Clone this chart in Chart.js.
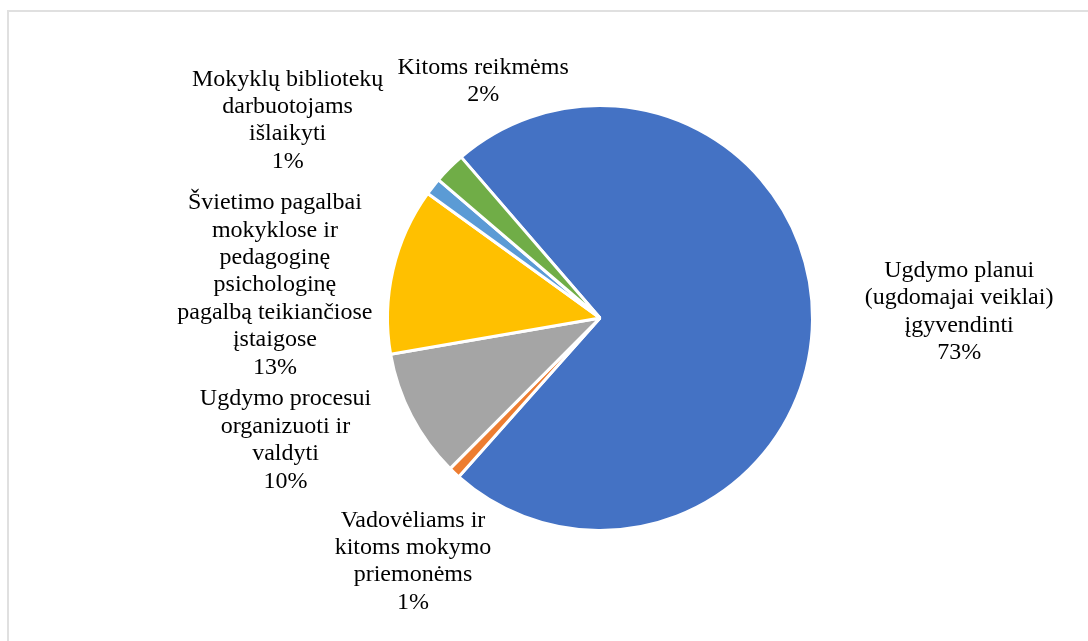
<!DOCTYPE html>
<html>
<head>
<meta charset="utf-8">
<script src="https://cdn.jsdelivr.net/npm/chart.js@4/dist/chart.umd.min.js"></script>
<style>
    html, body { margin: 0; padding: 0; background: #fff; overflow: hidden; }
    #wrap { position: relative; width: 1088px; height: 641px; }
    #frame { position: absolute; left: 7px; top: 10px; width: 1100px; height: 660px; border: 2px solid #e0e0e0; box-sizing: border-box; }
    #chart { position: absolute; left: 0; top: 0; }
</style>
</head>
<body>
<div id="wrap">
    <div id="frame"></div>
    <canvas id="chart" width="1088" height="641"></canvas>
</div>
<script>
// Kategorijos (eilutės suskaidytos kaip paveiksle)
const categories = [
    ['Ugdymo planui', '(ugdomajai veiklai)', 'įgyvendinti'],
    ['Vadovėliams ir', 'kitoms mokymo', 'priemonėms'],
    ['Ugdymo procesui', 'organizuoti ir', 'valdyti'],
    ['Švietimo pagalbai', 'mokyklose ir', 'pedagoginę', 'psichologinę', 'pagalbą teikiančiose', 'įstaigose'],
    ['Mokyklų bibliotekų', 'darbuotojams', 'išlaikyti'],
    ['Kitoms reikmėms']
];
// Dalis, %
const shares = [72.9, 0.9, 9.8, 12.7, 1.3, 2.4];
const colors = ['#4472C4', '#ED7D31', '#A5A5A5', '#FFC000', '#5B9BD5', '#70AD47'];

// etikečių centrai, spindulio dalimis nuo pyrago centro
const labelPos = [
    [1.69, -0.03],
    [-0.88, 1.145],
    [-1.48, 0.575],
    [-1.53, -0.155],
    [-1.47, -0.93],
    [-0.55, -1.115]
];

const outsideLabels = {
    id: 'outsideLabels',
    afterDatasetsDraw(chart) {
        const ctx = chart.ctx;
        const arcs = chart.getDatasetMeta(0).data;
        const data = chart.data.datasets[0].data;
        const total = data.reduce((a, b) => a + b, 0);
        const lh = 27.4;
        ctx.save();
        ctx.fillStyle = '#000';
        ctx.font = '24px "Liberation Serif", "Times New Roman", serif';
        ctx.textAlign = 'center';
        ctx.textBaseline = 'middle';
        arcs.forEach((arc, i) => {
            const r = arc.outerRadius;
            const cx = arc.x + labelPos[i][0] * r;
            const cy = arc.y + labelPos[i][1] * r;
            const lines = categories[i].concat([Math.round(data[i] / total * 100) + '%']);
            const y0 = cy - (lines.length - 1) / 2 * lh;
            lines.forEach((t, k) => ctx.fillText(t, cx, y0 + k * lh));
        });
        ctx.restore();
    }
};

new Chart(document.getElementById('chart'), {
    type: 'pie',
    data: {
        labels: categories.map(c => c.join(' ')),
        datasets: [{
            data: shares,
            backgroundColor: colors,
            borderColor: '#ffffff',
            borderWidth: 3
        }]
    },
    options: {
        responsive: false,
        animation: false,
        events: [],
        rotation: -40.8,
        radius: 212.5,
        layout: { padding: { left: 112, right: 0, top: 0, bottom: 5 } },
        plugins: {
            legend: { display: false },
            tooltip: { enabled: false }
        }
    },
    plugins: [outsideLabels]
});
</script>
</body>
</html>
